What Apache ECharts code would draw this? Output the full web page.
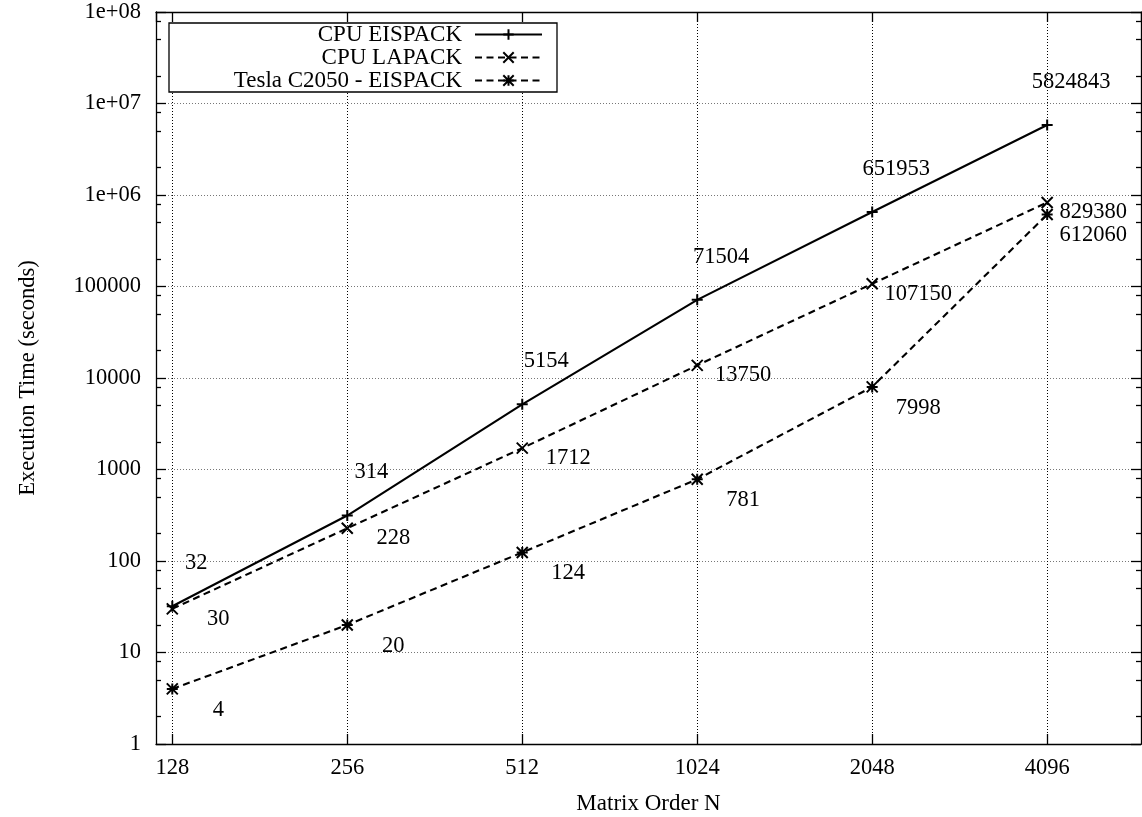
<!DOCTYPE html>
<html><head><meta charset="utf-8">
<script src="https://cdn.jsdelivr.net/npm/echarts@6/dist/echarts.min.js"></script>
<style>html,body{margin:0;padding:0;background:#fff}#c{width:1142px;height:817px}</style>
</head><body><div id="c"></div>
<script>
// ---- data ----
const matrixOrders = [128, 256, 512, 1024, 2048, 4096];
const cpuEispack = [32, 314, 5154, 71504, 651953, 5824843];
const cpuLapack = [30, 228, 1712, 13750, 107150, 829380];
const teslaEispack = [4, 20, 124, 781, 7998, 612060];
const seriesNames = ['CPU EISPACK', 'CPU LAPACK', 'Tesla C2050 - EISPACK'];
const yTickValues = [1, 10, 100, 1000, 10000, 100000, 1000000, 10000000, 100000000];
const yTickLabels = ['1', '10', '100', '1000', '10000', '100000', '1e+06', '1e+07', '1e+08'];
const minorMultipliers = [2, 5, 8];
const xTitle = 'Matrix Order N';
const yTitle = 'Execution Time (seconds)';

// ---- style ----
const FONT = 'Liberation Serif';
const FS = 22.5;
const BLACK = '#000';
const AXW = 1.3;
const X_MIN = 120, X_MAX = 5940;
const Y_MIN = 1, Y_MAX = 1e8;

const minorLog = [];
for (let d = 0; d < 8; d++) minorMultipliers.forEach(m => minorLog.push(d + Math.log10(m)));

const SYM_PLUS = 'path://M5 0L5 10M0 5L10 5';
const SYM_X = 'path://M0 0L10 10M10 0L0 10';
const SYM_STAR = 'path://M5 0L5 10M0 5L10 5M0 0L10 10M10 0L0 10';

function mkSeries(name, vals, symbol, dashed, offset) {
  return {
    name: name, type: 'line', xAxisIndex: 0, yAxisIndex: 0,
    data: matrixOrders.map((n, i) => [n, vals[i]]),
    symbol: symbol, symbolSize: 11, showSymbol: true,
    itemStyle: { color: BLACK, borderColor: BLACK, borderWidth: 2 },
    lineStyle: { color: BLACK, width: 2.1, type: dashed ? [7, 4.5] : 'solid' },
    label: {
      show: true, position: 'inside', offset: offset,
      formatter: p => String(p.value[1]),
      fontFamily: FONT, fontSize: FS, color: BLACK,
      align: 'center', verticalAlign: 'middle'
    },
    emphasis: { disabled: true },
    z: 3
  };
}

const tickLabelStyle = { fontFamily: FONT, fontSize: FS, color: BLACK };
const gridBox = { left: 156, right: 1, top: 12, bottom: 73, show: false, containLabel: false, outerBoundsMode: 'none' };

const chart = echarts.init(document.getElementById('c'), null, { renderer: 'canvas' });
chart.setOption({
  animation: false,
  backgroundColor: '#fff',
  grid: [ Object.assign({}, gridBox), Object.assign({}, gridBox) ],
  legend: {
    show: true, orient: 'vertical', align: 'right', left: 169, top: 23,
    itemWidth: 67, itemHeight: 13, itemGap: 0,
    padding: [0, 14, 0, 10],
    borderColor: BLACK, borderWidth: AXW, backgroundColor: '#fff',
    selectedMode: false,
    textStyle: { fontFamily: FONT, fontSize: 23, lineHeight: 23, color: BLACK, width: 283, align: 'right', padding: [0, 8, 0, 0] },
    data: seriesNames,
    z: 10
  },
  xAxis: [
    {
      type: 'log', logBase: 2, gridIndex: 0, position: 'bottom', min: X_MIN, max: X_MAX,
      axisLine: { show: true, onZero: false, lineStyle: { color: BLACK, width: AXW } },
      axisTick: { show: true, inside: true, length: 10, lineStyle: { color: BLACK, width: AXW } },
      axisLabel: Object.assign({ show: true, margin: 13, showMinLabel: false, showMaxLabel: false,
        formatter: v => String(Math.round(v)) }, tickLabelStyle),
      splitLine: { show: true, lineStyle: { color: BLACK, width: 1, type: [1, 2] } },
      minorTick: { show: false },
      name: xTitle, nameLocation: 'middle', nameGap: 48,
      nameTextStyle: { fontFamily: FONT, fontSize: 23, color: BLACK }
    },
    {
      type: 'log', logBase: 2, gridIndex: 0, position: 'top', min: X_MIN, max: X_MAX,
      axisLine: { show: true, onZero: false, lineStyle: { color: BLACK, width: AXW } },
      axisTick: { show: true, inside: true, length: 10, lineStyle: { color: BLACK, width: AXW } },
      axisLabel: { show: false }, splitLine: { show: false }
    },
    {
      type: 'value', gridIndex: 1, show: false, min: 0, max: 1
    }
  ],
  yAxis: [
    {
      type: 'log', logBase: 10, gridIndex: 0, position: 'left', min: Y_MIN, max: Y_MAX,
      axisLine: { show: true, onZero: false, lineStyle: { color: BLACK, width: AXW } },
      axisTick: { show: true, inside: true, length: 10, lineStyle: { color: BLACK, width: AXW } },
      axisLabel: Object.assign({
        show: true, margin: 15,
        formatter: v => { const i = Math.round(Math.log10(v)); return yTickLabels[i] !== undefined ? yTickLabels[i] : ''; }
      }, tickLabelStyle),
      splitLine: { show: true, lineStyle: { color: '#777', width: 1, type: [1, 2] } },
      minorTick: { show: false },
      name: yTitle, nameLocation: 'middle', nameRotate: 90, nameGap: 116,
      nameTextStyle: { fontFamily: FONT, fontSize: FS, color: BLACK }
    },
    {
      type: 'log', logBase: 10, gridIndex: 0, position: 'right', min: Y_MIN, max: Y_MAX,
      axisLine: { show: true, onZero: false, lineStyle: { color: BLACK, width: AXW } },
      axisTick: { show: true, inside: true, length: 10, lineStyle: { color: BLACK, width: AXW } },
      axisLabel: { show: false }, splitLine: { show: false }
    },
    {
      type: 'value', gridIndex: 1, position: 'left', min: 0, max: 8,
      axisLine: { show: false },
      axisTick: { show: true, inside: true, length: 5, customValues: minorLog, lineStyle: { color: BLACK, width: AXW } },
      axisLabel: { show: false }, splitLine: { show: false }
    },
    {
      type: 'value', gridIndex: 1, position: 'right', min: 0, max: 8,
      axisLine: { show: false },
      axisTick: { show: true, inside: true, length: 5, customValues: minorLog, lineStyle: { color: BLACK, width: AXW } },
      axisLabel: { show: false }, splitLine: { show: false }
    }
  ],
  series: [
    mkSeries(seriesNames[0], cpuEispack, SYM_PLUS, false, [24, -43]),
    mkSeries(seriesNames[1], cpuLapack, SYM_X, true, [46, 10]),
    mkSeries(seriesNames[2], teslaEispack, SYM_STAR, true, [46, 21])
  ]
});
</script>
</body></html>
